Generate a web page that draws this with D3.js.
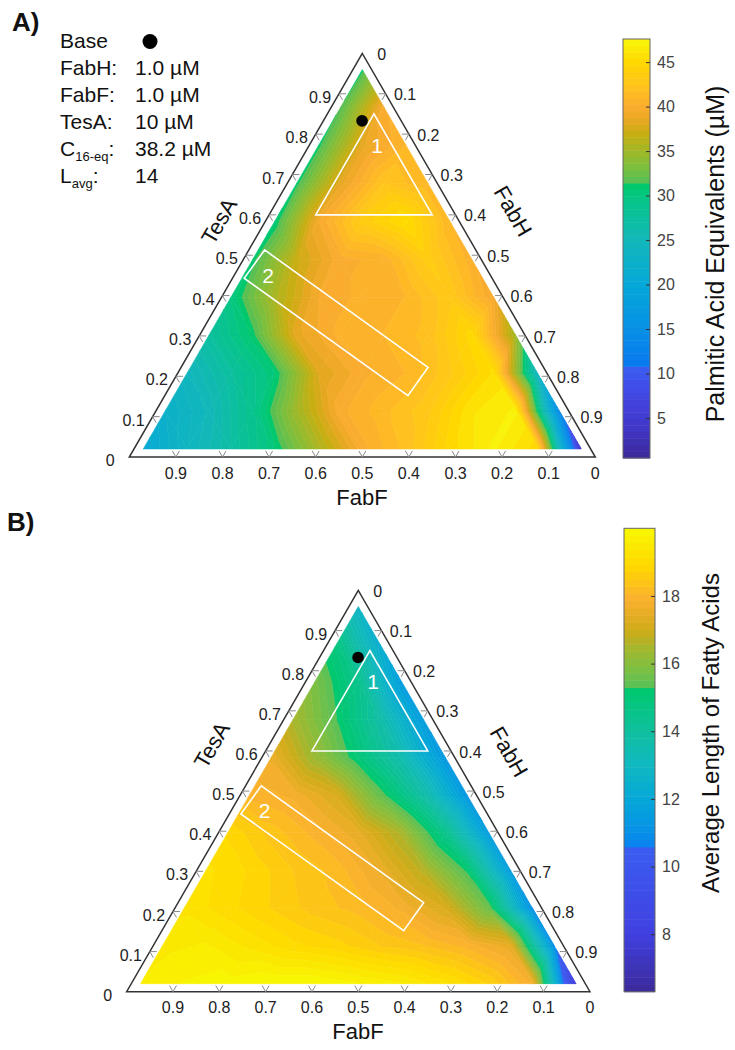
<!DOCTYPE html>
<html>
<head>
<meta charset="utf-8">
<script src="https://cdn.jsdelivr.net/npm/d3@7"></script>
<style>
  body { margin: 0; background: #fff; }
  svg { font-family: Arial, "Liberation Sans", sans-serif; }
</style>
</head>
<body>
<svg id="chart" width="735" height="1050"></svg>
<script>
'use strict'

/****** DATA ******/

// ternary axis ticks (fractions)
const tickLevels = [0, 0.1, 0.2, 0.3, 0.4, 0.5, 0.6, 0.7, 0.8, 0.9]
const tickLabels = ['0', '0.1', '0.2', '0.3', '0.4', '0.5', '0.6', '0.7', '0.8', '0.9']

// Palmitic acid equivalents (µM) sampled on the ternary grid:
// one row per TesA level (bottom -> apex), entries go FabH low -> high
const paeRows = [
  [20.5, 24, 27, 30.5, 35.5, 40, 42, 45, 47, 45, 3.5],
  [22.5, 25, 29, 35, 40, 41.5, 43, 46, 47, 14],
  [24.5, 27.5, 30.5, 38, 40, 41, 43, 45.5, 24],
  [27.5, 31, 38.5, 40.5, 41, 42, 45, 35],
  [30, 35.5, 39.5, 40.5, 41, 43, 39.5],
  [31, 37, 40, 40.5, 43.5, 40.5],
  [30.5, 39.5, 43.5, 45.5, 41],
  [31, 38.5, 42.5, 41],
  [31, 38.5, 41],
  [31.5, 40],
  [31]
]

// Average length of fatty acids, same grid
const lenRows = [
  [19.6, 19.8, 19.9, 20, 20, 19.8, 19.6, 19.2, 18.7, 17.8, 7.5],
  [19.5, 19.6, 19.3, 19, 18.8, 18.5, 18.3, 18, 17.5, 11],
  [19.3, 19, 18.7, 18.4, 18.2, 17.8, 17.2, 15.6, 11],
  [19.2, 18.9, 18.5, 18.2, 17.6, 16.7, 15.2, 11.5],
  [18.9, 18.4, 18, 17.5, 16.5, 14.5, 11.5],
  [18, 17.8, 17.2, 15.5, 13.8, 11.3],
  [17.6, 16.3, 15, 13.5, 11.3],
  [16.5, 15.3, 13.8, 11.5],
  [15.8, 14.5, 11.5],
  [14.8, 12.3],
  [12.8]
]

// colorbars
const paeDomain = [0.5, 47.6]
const paeTicks = [5, 10, 15, 20, 25, 30, 35, 40, 45]
const lenDomain = [6.3, 20]
const lenTicks = [8, 10, 12, 14, 16, 18]

// base composition (TesA, FabH) and highlighted regions, [TesA, FabH]
const basePoint = [0.833, 0.083]
const region1 = [[0.85, 0.10], [0.60, 0.10], [0.60, 0.35]]
const region2 = [[0.513, 0.034], [0.222, 0.530], [0.152, 0.522], [0.443, 0.025]]
const regionLabels = [['1', 0.772, 0.146], ['2', 0.45, 0.073]]

// legend of panel A
const legendKeys = [['FabH', '', ':'], ['FabF', '', ':'], ['TesA', '', ':'], ['C', '16-eq', ':'], ['L', 'avg', ':']]
const legendValues = ['1.0 µM', '1.0 µM', '10 µM', '38.2 µM', '14']


/****** PANELS ******/

const panels = [
  {
    letter: 'A)', letterPos: [12, 31],
    cx: 362.3, baseY: 457, side: 466,
    rows: paeRows, domain: paeDomain, ticks: paeTicks,
    stops: [[0.5, '#3b2a98'], [4, '#4137c8'], [8, '#4249e6'], [10.7, '#3a5ef0'], [10.8, '#0a78f0'],
            [15, '#0890e6'], [20, '#05a8d8'], [25, '#12b8ba'], [30, '#05c682'], [31.2, '#00c86a'],
            [31.3, '#50c058'], [33, '#78c040'], [35, '#a0b828'], [37, '#c8ae12'], [38.5, '#e8a822'],
            [40, '#fcac30'], [42, '#ffc020'], [45, '#ffd800'], [47.6, '#f8f80c']],
    bar: {x: 623, y: 39, w: 27, h: 419},
    barLabel: 'Palmitic Acid Equivalents  (µM)', barLabelPos: [715, 254], barLabelSize: 25,
    titles: {FabF: [362, 497], TesA: [219, 221], FabH: [513, 211]}
  },
  {
    letter: 'B)', letterPos: [7, 531],
    cx: 358.3, baseY: 991.7, side: 463.3,
    rows: lenRows, domain: lenDomain, ticks: lenTicks,
    stops: [[6.3, '#3b2a98'], [8, '#4040e0'], [10.5, '#3a5cf0'], [10.6, '#0a80f0'], [11, '#0890e8'],
            [12, '#05a8d8'], [13, '#10b8c0'], [14, '#10c0a0'], [15.2, '#00c870'], [15.3, '#58c058'],
            [15.9, '#80c040'], [16.4, '#a0b830'], [17, '#d0ac18'], [17.9, '#fbb030'], [18.9, '#ffd800'],
            [20, '#f8f800']],
    bar: {x: 624, y: 528.3, w: 31, h: 463.4},
    barLabel: 'Average Length of Fatty Acids', barLabelPos: [711, 733], barLabelSize: 24,
    titles: {FabF: [358, 1031], TesA: [211.7, 745], FabH: [509, 751.7]}
  }
]

const svg = d3.select('#chart')
const SQ3 = Math.sqrt(3) / 2
const NLEV = 64


/****** FUNCTIONS ******/

// (TesA, FabH) -> pixel, through two linear scales
function makeProj(p) {
  const x = d3.scaleLinear().domain([0, 1]).range([p.cx - p.side / 2, p.cx + p.side / 2])
  const y = d3.scaleLinear().domain([0, 1]).range([p.baseY, p.baseY - p.side * SQ3])
  return (t, h) => [x(h + t / 2), y(t)]
}

function makeColors(p) {
  const cm = d3.scaleLinear()
    .domain(p.stops.map(s => s[0]))
    .range(p.stops.map(s => s[1]))
    .clamp(true)
  const [d0, d1] = p.domain
  return d3.range(NLEV).map(i => cm(d0 + (i + 0.5) / NLEV * (d1 - d0)))
}

// keep the part of a polygon where f >= 0 (f linear in the sampled value)
function clipPoly(poly, f) {
  const out = []
  for (let i = 0; i < poly.length; i++) {
    const a = poly[i], b = poly[(i + 1) % poly.length]
    const fa = f(a), fb = f(b)
    if (fa >= 0) out.push(a)
    if ((fa >= 0) !== (fb >= 0)) {
      const s = fa / (fa - fb)
      out.push({t: a.t + s * (b.t - a.t), h: a.h + s * (b.h - a.h), v: a.v + s * (b.v - a.v)})
    }
  }
  return out
}

// filled contour bands, like contourf on the sampled grid
function drawField(g, proj, p, colors) {
  const rows = p.rows
  const n = rows.length - 1
  const lv = d3.range(n + 1).map(k => 0.02 + 0.94 * k / n)
  const V = (k, j) => ({t: lv[k], h: lv[j], v: rows[k][j]})

  const tris = []
  for (let k = 0; k < n; k++) {
    for (let j = 0; j < n - k; j++) {
      tris.push([V(k, j), V(k, j + 1), V(k + 1, j)])
      if (j < n - k - 1) tris.push([V(k, j + 1), V(k + 1, j + 1), V(k + 1, j)])
    }
  }

  const [d0, d1] = p.domain
  const step = (d1 - d0) / NLEV
  const band = d3.scaleQuantize().domain(p.domain).range(d3.range(NLEV))

  const pieces = []
  tris.forEach(tri => {
    const lo = band(d3.min(tri, q => q.v)), hi = band(d3.max(tri, q => q.v))
    for (let i = lo; i <= hi; i++) {
      let poly = tri
      if (i > 0) poly = clipPoly(poly, q => q.v - (d0 + i * step))
      if (i < NLEV - 1 && poly.length) poly = clipPoly(poly, q => (d0 + (i + 1) * step) - q.v)
      if (poly.length >= 3) pieces.push({poly, i})
    }
  })

  g.selectAll('path.cell')
    .data(pieces)
    .join('path')
      .attr('class', 'cell')
      .attr('d', d => 'M' + d.poly.map(q => proj(q.t, q.h).join(',')).join('L') + 'Z')
      .attr('fill', d => colors[d.i])
      .attr('stroke', d => colors[d.i])
      .attr('stroke-width', 0.6)
      .attr('stroke-linejoin', 'round')
}

function drawAxes(g, p, proj) {
  const corners = [proj(1, 0), proj(0, 0), proj(0, 1)]
  g.append('path')
    .attr('d', 'M' + corners.map(c => c.join(',')).join('L') + 'Z')
    .attr('fill', 'none')
    .attr('stroke', '#333')
    .attr('stroke-width', 1.5)

  const L = 7
  const stub = (pt, dirs) => dirs.map(d => `M${pt[0]},${pt[1]}l${d[0] * L},${d[1] * L}`).join('')
  const ticks = g.append('g').attr('fill', 'none').attr('stroke', '#8a8a8a').attr('stroke-width', 1)
  const lab = g.append('g').attr('font-size', 16).attr('fill', '#222').attr('text-anchor', 'middle')

  tickLevels.forEach((v, i) => {
    const pb = proj(0, 1 - v)   // FabF (bottom)
    const pl = proj(v, 0)       // TesA (left)
    const pr = proj(1 - v, v)   // FabH (right)
    if (v > 0) {
      ticks.append('path').attr('d',
        stub(pb, [[-0.5, -SQ3], [0.5, -SQ3]]) +
        stub(pl, [[1, 0], [0.5, SQ3]]) +
        stub(pr, [[-1, 0], [-0.5, SQ3]]))
    }
    lab.append('text').attr('x', pb[0]).attr('y', pb[1] + 16).attr('dy', '0.35em').text(tickLabels[i])
    lab.append('text').attr('x', pl[0] - 19).attr('y', pl[1] + 3.5).attr('dy', '0.35em').text(tickLabels[i])
    lab.append('text').attr('x', pr[0] + 19.5).attr('y', pr[1] + 1).attr('dy', '0.35em').text(tickLabels[i])
  })

  const tt = g.append('g').attr('font-size', 22).attr('fill', '#111').attr('text-anchor', 'middle')
  const T = p.titles
  tt.append('text').attr('transform', `translate(${T.FabF})`).attr('dy', '0.35em').text('FabF')
  tt.append('text').attr('transform', `translate(${T.TesA}) rotate(-60)`).attr('dy', '0.35em').text('TesA')
  tt.append('text').attr('transform', `translate(${T.FabH}) rotate(60)`).attr('dy', '0.35em').text('FabH')
}

function drawRegions(g, proj) {
  const line = d3.line()
    .x(d => proj(d[0], d[1])[0])
    .y(d => proj(d[0], d[1])[1])
    .curve(d3.curveLinearClosed)

  g.selectAll('path.region')
    .data([region1, region2])
    .join('path')
      .attr('class', 'region')
      .attr('d', line)
      .attr('fill', 'none')
      .attr('stroke', '#fff')
      .attr('stroke-width', 1.6)

  g.selectAll('text.region')
    .data(regionLabels)
    .join('text')
      .attr('class', 'region')
      .attr('x', d => proj(d[1], d[2])[0])
      .attr('y', d => proj(d[1], d[2])[1])
      .attr('dy', '0.35em')
      .attr('text-anchor', 'middle')
      .attr('font-size', 21)
      .attr('fill', '#fff')
      .text(d => d[0])

  const b = proj(basePoint[0], basePoint[1])
  g.append('circle').attr('cx', b[0]).attr('cy', b[1]).attr('r', 5.8).attr('fill', '#000')
}

function drawColorbar(g, p, colors) {
  const bar = p.bar
  const y = d3.scaleLinear().domain(p.domain).range([bar.y + bar.h, bar.y])
  const [d0, d1] = p.domain
  const step = (d1 - d0) / NLEV

  g.selectAll('rect.band')
    .data(d3.range(NLEV))
    .join('rect')
      .attr('class', 'band')
      .attr('x', bar.x)
      .attr('width', bar.w)
      .attr('y', i => y(d0 + (i + 1) * step))
      .attr('height', i => y(d0 + i * step) - y(d0 + (i + 1) * step) + 0.5)
      .attr('fill', i => colors[i])

  g.append('rect')
    .attr('x', bar.x).attr('y', bar.y).attr('width', bar.w).attr('height', bar.h)
    .attr('fill', 'none').attr('stroke', '#666').attr('stroke-width', 1)

  const ax = g.append('g')
    .attr('transform', `translate(${bar.x + bar.w},0)`)
    .call(d3.axisRight(y).tickValues(p.ticks).tickSize(-4).tickPadding(7))
  ax.select('.domain').remove()
  ax.selectAll('line').attr('stroke', '#333')
  ax.selectAll('text')
    .attr('font-size', 16)
    .attr('fill', '#444')
    .attr('font-family', 'Arial, "Liberation Sans", sans-serif')

  g.append('text')
    .attr('transform', `translate(${p.barLabelPos}) rotate(-90)`)
    .attr('text-anchor', 'middle')
    .attr('dy', '0.35em')
    .attr('font-size', p.barLabelSize)
    .attr('fill', '#111')
    .text(p.barLabel)
}


/****** DRAW ******/

panels.forEach(p => {
  const proj = makeProj(p)
  const colors = makeColors(p)
  const g = svg.append('g')

  drawField(g.append('g'), proj, p, colors)
  drawAxes(g.append('g'), p, proj)
  drawRegions(g.append('g'), proj)
  drawColorbar(g.append('g'), p, colors)

  g.append('text')
    .attr('x', p.letterPos[0]).attr('y', p.letterPos[1])
    .attr('font-size', 26).attr('font-weight', 'bold').attr('fill', '#111')
    .text(p.letter)
})

// legend (panel A)
const leg = svg.append('g').attr('font-size', 21).attr('fill', '#111')
leg.append('text').attr('x', 60).attr('y', 48).text('Base')
leg.append('circle').attr('cx', 150).attr('cy', 41.5).attr('r', 7.5).attr('fill', '#000')
legendKeys.forEach((k, i) => {
  const yy = 75 + i * 27
  const t = leg.append('text').attr('x', 60).attr('y', yy)
  t.append('tspan').text(k[0])
  if (k[1]) {
    t.append('tspan').attr('font-size', 13).attr('dy', 5).text(k[1])
    t.append('tspan').attr('dy', -5).text(k[2])
  } else {
    t.append('tspan').text(k[2])
  }
  leg.append('text').attr('x', 135).attr('y', yy).text(legendValues[i])
})
</script>
</body>
</html>
